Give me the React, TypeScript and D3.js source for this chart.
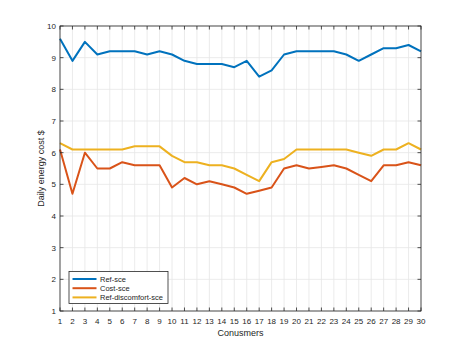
import React from 'react';
import * as d3 from 'd3';

const consumers = d3.range(1, 31);
const refSce = [9.6, 8.9, 9.5, 9.1, 9.2, 9.2, 9.2, 9.1, 9.2, 9.1, 8.9, 8.8, 8.8, 8.8, 8.7, 8.9, 8.4, 8.6, 9.1, 9.2, 9.2, 9.2, 9.2, 9.1, 8.9, 9.1, 9.3, 9.3, 9.4, 9.2];
const costSce = [6.1, 4.7, 6.0, 5.5, 5.5, 5.7, 5.6, 5.6, 5.6, 4.9, 5.2, 5.0, 5.1, 5.0, 4.9, 4.7, 4.8, 4.9, 5.5, 5.6, 5.5, 5.55, 5.6, 5.5, 5.3, 5.1, 5.6, 5.6, 5.7, 5.6];
const refDiscomfortSce = [6.3, 6.1, 6.1, 6.1, 6.1, 6.1, 6.2, 6.2, 6.2, 5.9, 5.7, 5.7, 5.6, 5.6, 5.5, 5.3, 5.1, 5.7, 5.8, 6.1, 6.1, 6.1, 6.1, 6.1, 6.0, 5.9, 6.1, 6.1, 6.3, 6.1];
const yTicks = d3.range(1, 11);

const series = [
  { name: 'Ref-sce', values: refSce, color: '#0072BD' },
  { name: 'Cost-sce', values: costSce, color: '#D95319' },
  { name: 'Ref-discomfort-sce', values: refDiscomfortSce, color: '#EDB120' },
];

const W = 466;
const H = 350;
const left = 60;
const right = 421;
const top = 26;
const bottom = 311;
const font = '"Liberation Sans", Arial, sans-serif';

export default function App() {
  const x = d3.scaleLinear().domain([1, 30]).range([left, right]);
  const y = d3.scaleLinear().domain([1, 10]).range([bottom, top]);
  const line = d3.line<number>()
    .x((_, i) => x(consumers[i]))
    .y(d => y(d));

  const tick = 3.5;

  return (
    <svg width={W} height={H} style={{ position: 'absolute', left: 0, top: 0, background: '#fff' }}>
      <rect x={0} y={0} width={W} height={H} fill="#fff" />
      {/* grid */}
      <g stroke="#e6e6e6" strokeWidth={0.8}>
        {consumers.map(c => (
          <line key={'gx' + c} x1={x(c)} x2={x(c)} y1={top} y2={bottom} />
        ))}
        {yTicks.map(t => (
          <line key={'gy' + t} x1={left} x2={right} y1={y(t)} y2={y(t)} />
        ))}
      </g>
      {/* lines */}
      {series.map(s => (
        <path key={s.name} d={line(s.values) || ''} fill="none" stroke={s.color} strokeWidth={2} strokeLinejoin="round" />
      ))}
      {/* box and ticks */}
      <g stroke="#262626" strokeWidth={0.8} fill="none">
        <rect x={left} y={top} width={right - left} height={bottom - top} />
        {consumers.map(c => (
          <g key={'tx' + c}>
            <line x1={x(c)} x2={x(c)} y1={bottom} y2={bottom - tick} />
            <line x1={x(c)} x2={x(c)} y1={top} y2={top + tick} />
          </g>
        ))}
        {yTicks.map(t => (
          <g key={'ty' + t}>
            <line x1={left} x2={left + tick} y1={y(t)} y2={y(t)} />
            <line x1={right} x2={right - tick} y1={y(t)} y2={y(t)} />
          </g>
        ))}
      </g>
      {/* tick labels */}
      <g fontFamily={font} fontSize={8} fill="#262626">
        {consumers.map(c => (
          <text key={'lx' + c} x={x(c)} y={bottom + 12.5} textAnchor="middle">{c}</text>
        ))}
        {yTicks.map(t => (
          <text key={'ly' + t} x={left - 4} y={y(t) + 3} textAnchor="end">{t}</text>
        ))}
      </g>
      <text x={(left + right) / 2} y={335.5} textAnchor="middle" fontFamily={font} fontSize={9} fill="#262626">Conusmers</text>
      <text transform={`translate(43.5,${(top + bottom) / 2}) rotate(-90)`} textAnchor="middle" fontFamily={font} fontSize={9} fill="#262626">Daily energy cost $</text>
      {/* legend */}
      <g>
        <rect x={69} y={271.5} width={99} height={32} fill="#fff" stroke="#262626" strokeWidth={0.8} />
        {series.map((s, i) => (
          <g key={'lg' + s.name}>
            <line x1={72.5} x2={96.5} y1={279 + i * 9.2} y2={279 + i * 9.2} stroke={s.color} strokeWidth={2} />
            <text x={100} y={279 + i * 9.2 + 2.7} fontFamily={font} fontSize={7.5} fill="#262626">{s.name}</text>
          </g>
        ))}
      </g>
    </svg>
  );
}
